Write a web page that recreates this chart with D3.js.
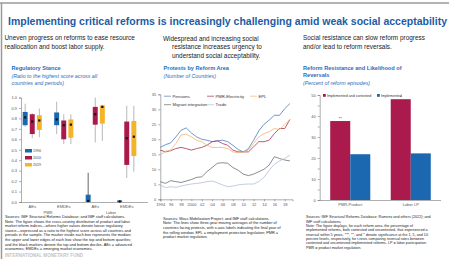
<!DOCTYPE html>
<html>
<head>
<meta charset="utf-8">
<script src="https://cdn.jsdelivr.net/npm/d3@7"></script>
<style>
  body { margin: 0; background: #fff; }
  svg { display: block; font-family: "Liberation Sans", Arial, sans-serif; }
  .axis text { font-size: 4px; fill: #555; }
  .axis path, .axis line { stroke: #777; stroke-width: 0.6; }
</style>
</head>
<body>
<svg id="chart" width="449" height="259"></svg>
<script>
// left panel: regulatory stance box plots
const boxGroups = ['PMR-AEs', 'PMR-EMDEs', 'Labor-AEs', 'Labor-EMDEs'];
const boxGroupLabels = ['AEs', 'EMDEs', 'AEs', 'EMDEs'];
const boxYears = ['1990', '2010', '2019'];
// group, year, p10, p25, median, p75, p90
const boxStats = [
  ['PMR-AEs', '1990', 0.72, 0.735, 0.81, 0.862, 0.94],
  ['PMR-AEs', '2010', 0.61, 0.65, 0.77, 0.84, 0.85],
  ['PMR-AEs', '2019', 0.62, 0.69, 0.78, 0.83, 0.895],
  ['PMR-EMDEs', '1990', 0.65, 0.735, 0.79, 0.857, 0.96],
  ['PMR-EMDEs', '2010', 0.555, 0.60, 0.735, 0.78, 0.84],
  ['PMR-EMDEs', '2019', 0.555, 0.615, 0.74, 0.79, 0.84],
  ['Labor-AEs', '1990', 0.0, 0.0, 0.01, 0.07, 0.28],
  ['Labor-AEs', '2010', 0.57, 0.74, 0.84, 0.91, 1.0],
  ['Labor-AEs', '2019', 0.585, 0.75, 0.91, 0.925, 0.93],
  ['Labor-EMDEs', '1990', 0.0, 0.0, 0.005, 0.015, 0.015],
  ['Labor-EMDEs', '2010', 0.23, 0.355, 0.61, 0.77, 0.92],
  ['Labor-EMDEs', '2019', 0.29, 0.44, 0.625, 0.775, 0.92]
];
const stanceTicks = [0, 0.1, 0.2, 0.3, 0.4, 0.5, 0.6, 0.7, 0.8, 0.9, 1.0];

// middle panel: protests by reform area (three-year moving averages)
const protestYears = [1994, 1995, 1996, 1997, 1998, 1999, 2000, 2001, 2002, 2003, 2004, 2005, 2006,
  2007, 2008, 2009, 2010, 2011, 2012, 2013, 2014, 2015, 2016, 2017, 2018, 2019];
const pensions = [17.3, 18.2, 18.8, 20.8, 23, 23.8, 22.1, 20.8, 20, 19.7, 19.2, 19.5, 19.7,
  19.2, 18, 16.6, 15.8, 16.9, 19.7, 22.8, 25, 26.4, 28, 28, 30.2, 31.9];
const pmrElectricity = [16.4, 15.8, 16.2, 16.9, 17.3, 16.9, 16.4, 16.9, 17.3, 18, 19.2, 19.5, 18.6,
  18, 16.4, 15.8, 15.8, 15.8, 17.5, 19.2, 19.2, 19.7, 21.9, 23.6, 23.6, 26.6];
const epl = [14.7, 16, 16.4, 18.6, 21.4, 21.7, 20.8, 19.7, 19.2, 18, 17.3, 17.3, 17.3,
  16.9, 15.8, 15.5, 15.8, 16.4, 18.6, 20.8, 21.9, 22.5, 23.6, 23.3, 24.9, 26.6];
const migrantIntegration = [5.9, 5.3, 6.2, 5.9, 5.6, 6.1, 6.6, 7.3, 7.5, 9.2, 10.6, 12, 12.2,
  12, 10.6, 9.7, 8.4, 7.9, 8.4, 9.2, 10, 11.4, 14.2, 13.6, 13.1, 12.8];
const trade = [4.8, 3.9, 4.2, 4, 4.4, 4.8, 5.1, 5.3, 5.5, 5.9, 6.1, 5.5, 4.8,
  4.2, 4.4, 4.8, 5, 5.1, 5.1, 5.9, 7.3, 9.7, 11.7, 12.8, 13.6, 14.7];
const protestTicks = [0, 5, 10, 15, 20, 25, 30, 35];
const yearTicks = [1994, 1996, 1998, 2000, 2002, 2004, 2006, 2008, 2010, 2012, 2014, 2016, 2018];

// right panel: reform resistance and reversals
const reformAreas = ['PMR-Product', 'Labor LP'];
const reversalSeries = ['Implemented and contested', 'Implemented'];
const contested = [37.6, 48];
const uncontested = [21.8, 22.2];
const significance = ['**', '*'];
const reversalTicks = [0, 5, 10, 15, 20, 25, 30, 35, 40, 45, 50];

const blue = '#1b68b1';
const red = '#ab1a4c';
const yellow = '#f4b42a';
const titleBlue = '#1d5ba6';
const textBlue = '#2c6cb8';

let svg = d3.select('#chart');

// frame
svg.append('line').attr('x1', 0).attr('x2', 449).attr('y1', 3).attr('y2', 3)
  .attr('stroke', '#9a9a9a').attr('stroke-width', 1.5);
svg.append('line').attr('x1', 1.5).attr('x2', 1.5).attr('y1', 3).attr('y2', 259)
  .attr('stroke', '#9a9a9a').attr('stroke-width', 1.5);

svg.append('text')
  .attr('x', 8).attr('y', 25)
  .attr('textLength', 439).attr('lengthAdjust', 'spacingAndGlyphs')
  .attr('font-size', 10.5).attr('font-weight', 'bold').attr('fill', titleBlue)
  .text('Implementing critical reforms is increasingly challenging amid weak social acceptability');

function lines (x, y, step, rows, opts) {
  let t = svg.append('text')
    .attr('font-size', opts.size)
    .attr('fill', opts.fill || '#222')
    .attr('font-weight', opts.weight || 'normal')
    .attr('font-style', opts.style || 'normal');
  rows.forEach((r, i) => {
    let xx = Array.isArray(x) ? x[i] : x;
    t.append('tspan').attr('x', xx).attr('y', y + i * step).text(r);
  });
}

// column headlines
lines(4.5, 40, 9, ['Uneven progress on reforms to ease resource', 'reallocation and boost labor supply.'], {size: 6.4});
lines([163, 172, 172], 40.5, 8.5, ['Widespread and increasing social', 'resistance increases urgency to',
  'understand social acceptability.'], {size: 6.4});
lines(303, 40, 9, ['Social resistance can slow reform progress', 'and/or lead to reform reversals.'], {size: 6.4});

// chart titles
lines(11.5, 70, 0, ['Regulatory Stance'], {size: 5.6, weight: 'bold', fill: textBlue});
lines(11.5, 78.3, 7, ['(Ratio to the highest score across all', 'countries and periods)'], {size: 5.3, style: 'italic', fill: textBlue});
lines(163.5, 70, 0, ['Protests by Reform Area'], {size: 5.6, weight: 'bold', fill: textBlue});
lines(163.5, 78.3, 0, ['(Number of Countries)'], {size: 5.3, style: 'italic', fill: textBlue});
lines(303, 69.8, 7.6, ['Reform Resistance and Likelihood of', 'Reversals'], {size: 5.6, weight: 'bold', fill: textBlue});
lines(303, 85, 0, ['(Percent of reform episodes)'], {size: 5.3, style: 'italic', fill: textBlue});

// ---------- left: box plots ----------
let yS = d3.scaleLinear().domain([0, 1]).range([202, 97.5]);
let gS = d3.scaleBand().domain(boxGroups).range([16.5, 142.5]);
let sS = d3.scaleBand().domain(boxYears).range([-11.7, 11.7]).padding(0.3);
let boxColor = d3.scaleOrdinal().domain(boxYears).range([blue, red, yellow]);

svg.append('g').attr('class', 'axis')
  .attr('transform', 'translate(21,0)')
  .call(d3.axisLeft(yS).tickValues(stanceTicks).tickSize(2).tickPadding(2).tickFormat(d3.format('.1f')));

svg.append('g').attr('class', 'axis')
  .attr('transform', 'translate(0,202)')
  .call(d3.axisBottom(gS).tickSize(0).tickPadding(3).tickFormat((d, i) => boxGroupLabels[i]))
  .call(g => g.select('.domain').attr('d', 'M21,0.5H148'));

svg.append('text').attr('x', (gS('PMR-AEs') + gS('PMR-EMDEs') + gS.bandwidth()) / 2).attr('y', 213.5)
  .attr('text-anchor', 'middle').attr('font-size', 4).attr('fill', '#555').text('PMR');
svg.append('text').attr('x', (gS('Labor-AEs') + gS('Labor-EMDEs') + gS.bandwidth()) / 2).attr('y', 213.5)
  .attr('text-anchor', 'middle').attr('font-size', 4).attr('fill', '#555').text('Labor');

let boxes = svg.append('g').selectAll('g')
  .data(boxStats)
  .enter().append('g')
  .attr('transform', d => 'translate(' + (gS(d[0]) + gS.bandwidth() / 2 + sS(d[1])) + ',0)');

boxes.append('line')
  .attr('x1', sS.bandwidth() / 2).attr('x2', sS.bandwidth() / 2)
  .attr('y1', d => yS(d[2])).attr('y2', d => yS(d[6]))
  .attr('stroke', d => d[1] === '1990' && d[0].startsWith('Labor') ? '#222' : '#9a9a9a')
  .attr('stroke-width', 0.7);

boxes.append('rect')
  .attr('x', 0).attr('width', sS.bandwidth())
  .attr('y', d => yS(d[5]))
  .attr('height', d => Math.max(yS(d[3]) - yS(d[5]), 1.2))
  .attr('fill', d => boxColor(d[1]));

boxes.append('rect')
  .attr('x', sS.bandwidth() / 2 - 1.1).attr('width', 2.2)
  .attr('y', d => yS(d[4]) - 1.1).attr('height', 2.2)
  .attr('fill', '#111');

let lg = svg.append('g').selectAll('g')
  .data(boxYears)
  .enter().append('g')
  .attr('transform', (d, i) => 'translate(25,' + (149 + i * 7) + ')');
lg.append('rect').attr('width', 7).attr('height', 3.5).attr('fill', d => boxColor(d));
lg.append('text').attr('x', 8).attr('y', 3.2).attr('font-size', 3.6).attr('fill', '#444').text(d => d);

// ---------- middle: protest lines ----------
let xP = d3.scaleLinear().domain([1994, 2019.5]).range([160.3, 292.5]);
let yP = d3.scaleLinear().domain([0, 35]).range([199.3, 94.3]);

svg.append('g').attr('class', 'axis')
  .attr('transform', 'translate(160.3,0)')
  .call(d3.axisLeft(yP).tickValues(protestTicks).tickSize(2).tickPadding(2));

svg.append('g').attr('class', 'axis')
  .attr('transform', 'translate(0,199.3)')
  .call(d3.axisBottom(xP).tickValues(yearTicks).tickSize(2).tickPadding(1.5)
    .tickFormat(d => (d === 1994 || d === 2000) ? String(d) : String(d).slice(2)));

let protestSeries = [
  {name: 'Pensions', values: pensions, color: '#4a7cc0'},
  {name: 'PMR-Electricity', values: pmrElectricity, color: '#a8344f'},
  {name: 'EPL', values: epl, color: '#f1b46d'},
  {name: 'Migrant integration', values: migrantIntegration, color: '#6f6f6f'},
  {name: 'Trade', values: trade, color: '#b0bfd8'}
];

let line = d3.line()
  .x((d, i) => xP(protestYears[i]))
  .y(d => yP(d));

svg.append('g').selectAll('path')
  .data(protestSeries)
  .enter().append('path')
  .attr('d', d => line(d.values))
  .attr('fill', 'none')
  .attr('stroke', d => d.color)
  .attr('stroke-width', 0.8);

let legendPos = [[164, 97.5], [207, 97.5], [250, 97.5], [164, 106], [207, 106]];
let pl = svg.append('g').selectAll('g')
  .data(protestSeries)
  .enter().append('g')
  .attr('transform', (d, i) => 'translate(' + legendPos[i][0] + ',' + legendPos[i][1] + ')');
pl.append('line').attr('x1', 0).attr('x2', 7).attr('y1', -1.3).attr('y2', -1.3)
  .attr('stroke', d => d.color).attr('stroke-width', 0.7);
pl.append('text').attr('x', 8.5).attr('y', 0).attr('font-size', 4.2).attr('fill', '#333').text(d => d.name);

// ---------- right: reversal bars ----------
let yR = d3.scaleLinear().domain([0, 50]).range([200, 95]);
let x0 = d3.scaleBand().domain(reformAreas).range([320, 441]);
let x1 = d3.scaleBand().domain(reversalSeries).range([0, x0.bandwidth()]).paddingOuter(0.51);
let barColor = d3.scaleOrdinal().domain(reversalSeries).range([red, blue]);

svg.append('g').attr('class', 'axis')
  .attr('transform', 'translate(319.7,0)')
  .call(d3.axisLeft(yR).tickValues(reversalTicks).tickSize(2).tickPadding(2)
    .tickFormat(d => d % 10 === 0 ? d : ''));

let barData = [];
reformAreas.forEach((a, i) => {
  barData.push({area: a, series: reversalSeries[0], value: contested[i], star: significance[i]});
  barData.push({area: a, series: reversalSeries[1], value: uncontested[i], star: ''});
});

svg.append('g').selectAll('rect')
  .data(barData)
  .enter().append('rect')
  .attr('x', d => x0(d.area) + x1(d.series))
  .attr('width', x1.bandwidth())
  .attr('y', d => yR(d.value))
  .attr('height', d => yR(0) - yR(d.value))
  .attr('fill', d => barColor(d.series));

svg.append('g').selectAll('text')
  .data(barData.filter(d => d.star))
  .enter().append('text')
  .attr('x', d => x0(d.area) + x1(d.series) + x1.bandwidth() / 2)
  .attr('y', d => yR(d.value) - 0.6)
  .attr('text-anchor', 'middle').attr('font-size', 4).attr('fill', '#333')
  .text(d => d.star);

svg.append('g').attr('class', 'axis')
  .attr('transform', 'translate(0,200)')
  .call(d3.axisBottom(x0).tickSize(0).tickPadding(3))
  .call(g => g.select('.domain').attr('d', 'M319.7,0.5H441'));

let rl = svg.append('g').selectAll('g')
  .data(reversalSeries)
  .enter().append('g')
  .attr('transform', (d, i) => 'translate(' + (323 + i * 54) + ',94)');
rl.append('rect').attr('width', 2.8).attr('height', 2.8).attr('fill', d => barColor(d));
rl.append('text').attr('x', 4).attr('y', 2.6).attr('font-size', 3.6).attr('fill', '#333').text(d => d);

// ---------- notes ----------
lines(5, 218, 4.6, [
  'Sources: IMF Structural Reforms Database; and IMF staff calculations.',
  'Note: The figure shows the cross-country distribution of product and labor',
  'market reform indices\u2014where higher values denote looser regulatory',
  'stance\u2014expressed as a ratio to the highest score across all countries and',
  'periods in the sample. The marker inside each box represents the median;',
  'the upper and lower edges of each box show the top and bottom quartiles;',
  'and the black markers denote the top and bottom deciles. AEs = advanced',
  'economies; EMDEs = emerging market economies.'
], {size: 3.85});

lines(163, 219.6, 4.7, [
  'Sources: Mass Mobilization Project; and IMF staff calculations.',
  'Note: The lines show three-year moving averages of the number of',
  'countries facing protests, with x-axis labels indicating the final year of',
  'the rolling window. EPL = employment protection legislation; PMR =',
  'product market regulation.'
], {size: 3.85});

lines(306, 218.2, 4.35, [
  'Sources: IMF Structural Reforms Database; Ramirez and others (2022); and',
  'IMF staff calculations.',
  'Note: The figure displays, for each reform area, the percentage of',
  'implemented reforms, both contested and uncontested, that experienced a',
  'reversal within 5 years. ***, **, and * denote significance at the 1, 5, and 10',
  'percent levels, respectively, for t-tests comparing reversal rates between',
  'contested and uncontested implemented reforms. LP = labor participation;',
  'PMR = product market regulation.'
], {size: 3.7});

svg.append('text').attr('x', 5).attr('y', 257.3)
  .attr('font-size', 4.6).attr('font-weight', 'bold').attr('fill', '#c4c4c4')
  .text('INTERNATIONAL MONETARY FUND');
</script>
</body>
</html>
